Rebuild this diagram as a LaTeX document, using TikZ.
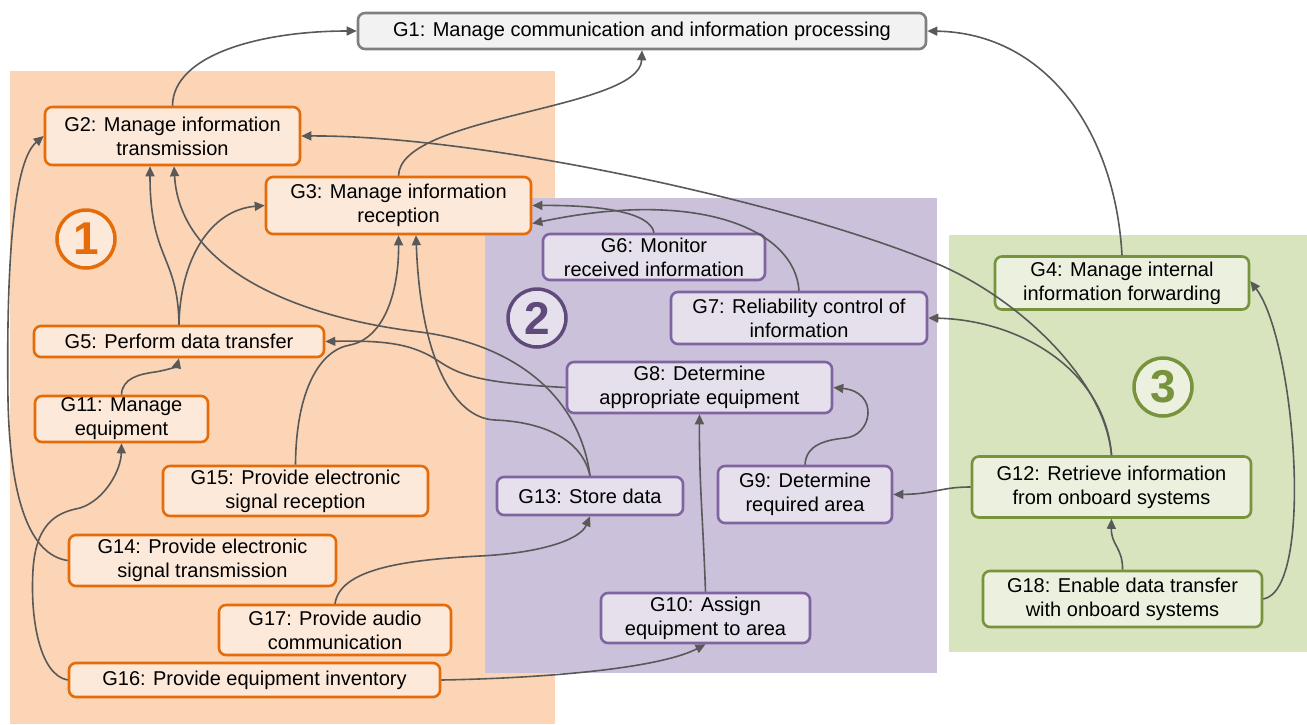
\documentclass[tikz,border=0pt]{standalone}
\usepackage{fontspec}
\setmainfont{Liberation Sans}
\usetikzlibrary{arrows.meta}
\definecolor{orbg}{HTML}{FBD5B5}
\definecolor{orfill}{HTML}{FDE9D9}
\definecolor{orline}{HTML}{E46C0A}
\definecolor{pubg}{HTML}{CCC1DA}
\definecolor{pufill}{HTML}{E5E0EC}
\definecolor{puline}{HTML}{8064A2}
\definecolor{pudark}{HTML}{604A7B}
\definecolor{grbg}{HTML}{D7E4BD}
\definecolor{grfill}{HTML}{EBF1DE}
\definecolor{grline}{HTML}{77933C}
\definecolor{gyfill}{HTML}{F2F2F2}
\definecolor{gyline}{HTML}{7F7F7F}
\definecolor{conn}{HTML}{595959}
\tikzset{
  gbox/.style={rectangle, rounded corners=7pt, line width=2.6pt, inner sep=0pt, align=center,
    font=\fontsize{20}{24}\selectfont, text=black},
  obox/.style={gbox, draw=orline, fill=orfill},
  pbox/.style={gbox, draw=puline, fill=pufill},
  grbox/.style={gbox, draw=grline, fill=grfill},
  gybox/.style={gbox, draw=gyline, fill=gyfill},
  num/.style={circle, line width=3.5pt, minimum size=58pt, inner sep=0pt,
    font=\fontsize{46}{46}\selectfont\bfseries},
  link/.style={draw=conn, line width=1.6pt, -{Triangle[length=10pt,width=9pt]}},
}
\begin{document}
\begin{tikzpicture}[x=1pt,y=-1pt]
\useasboundingbox (0,0) rectangle (1307,724);
% regions
\fill[orbg] (10,71) rectangle (555,724);
\fill[pubg] (485,198) rectangle (937,673);
\fill[grbg] (949,235) rectangle (1307,652);
% circles
\node[num, draw=orline, fill=orfill, text=orline] (c1) at (86,239) {1};
\node[num, draw=pudark, fill=pufill, text=pudark] (c2) at (537,318) {2};
\node[num, draw=grline, fill=grfill, text=grline] (c3) at (1163,387) {3};
% nodes
\node[gybox, minimum width=568pt, minimum height=36pt] (G1) at (642,31) {G1: Manage communication and information processing};
\node[obox, minimum width=255pt, minimum height=58pt] (G2) at (172.5,136) {G2: Manage information\\transmission};
\node[obox, minimum width=265pt, minimum height=57pt] (G3) at (398.5,205.5) {G3: Manage information\\reception};
\node[grbox, minimum width=254pt, minimum height=53pt] (G4) at (1122,283) {G4: Manage internal\\information forwarding};
\node[obox, minimum width=290pt, minimum height=31pt] (G5) at (179,341.5) {G5: Perform data transfer};
\node[pbox, minimum width=222pt, minimum height=46pt] (G6) at (654,257) {G6: Monitor\\received information};
\node[pbox, minimum width=256pt, minimum height=52pt] (G7) at (799,318) {G7: Reliability control of\\information};
\node[pbox, minimum width=265pt, minimum height=51pt] (G8) at (699.5,387.5) {G8: Determine\\appropriate equipment};
\node[pbox, minimum width=174pt, minimum height=57pt] (G9) at (805,494.5) {G9: Determine\\required area};
\node[pbox, minimum width=209pt, minimum height=50pt] (G10) at (705.5,618) {G10: Assign\\equipment to area};
\node[obox, minimum width=173pt, minimum height=46pt] (G11) at (121.5,419) {G11: Manage\\equipment};
\node[grbox, minimum width=279pt, minimum height=61pt] (G12) at (1111.5,487) {G12: Retrieve information\\from onboard systems};
\node[pbox, minimum width=186pt, minimum height=38pt] (G13) at (590,496) {G13: Store data};
\node[obox, minimum width=267pt, minimum height=51pt] (G14) at (202.5,560.5) {G14: Provide electronic\\signal transmission};
\node[obox, minimum width=265pt, minimum height=50pt] (G15) at (295.5,491) {G15: Provide electronic\\signal reception};
\node[obox, minimum width=371pt, minimum height=34pt] (G16) at (254.5,680) {G16: Provide equipment inventory};
\node[obox, minimum width=232pt, minimum height=50pt] (G17) at (335,630) {G17: Provide audio\\communication};
\node[grbox, minimum width=279pt, minimum height=56pt] (G18) at (1122.5,599) {G18: Enable data transfer\\with onboard systems};
% connectors
\draw[link] (G2.north) .. controls (173,55) and (260,31) .. (G1.west);
\draw[link] (G3.north) .. controls (400,115) and (640,110) .. (G1.south);
\draw[link] (G4.north) .. controls (1115,130) and (1045,33) .. (G1.east);
\draw[link] (G12.north) .. controls (1105,380) and (1020,300) .. (940,265)
  .. controls (790,202) and (480,135) .. (G2.east);
\draw[link] (G12.north) .. controls (1105,370) and (1020,320) .. (G7.east);
\draw[link] (G7.north) .. controls (795,230) and (700,188) .. ([yshift=-18pt]G3.east);
\draw[link] (G6.north) .. controls (650,212) and (600,205) .. (G3.east);
\draw[link] (G9.north) .. controls (806,445) and (825,440) .. (845,438)
  .. controls (872,436) and (880,392) .. (G8.east);
\draw[link] (G10.north) .. controls (703,520) and (699,480) .. (G8.south);
\draw[link] (G12.west) .. controls (940,487) and (935,494) .. (G9.east);
\draw[link] (G18.north) .. controls (1123,548) and (1111,545) .. (G12.south);
\draw[link] (G18.east) .. controls (1315,590) and (1295,340) .. ([yshift=2pt]G4.east);
\draw[link] (G8.west) .. controls (480,383) and (460,375) .. (440,362)
  .. controls (415,345) and (390,340) .. (G5.east);
\draw[link] (G13.north) .. controls (580,400) and (520,345) .. (420,332)
  .. controls (300,318) and (180,270) .. ([xshift=1.5pt]G2.south);
\draw[link] (G13.north) .. controls (582,440) and (545,422) .. (495,420)
  .. controls (450,418) and (420,350) .. ([xshift=17.5pt]G3.south);
\draw[link] (G15.north) .. controls (296,390) and (320,350) .. (350,345)
  .. controls (385,338) and (399,290) .. (G3.south);
\draw[link] (G5.north) .. controls (178,255) and (150,260) .. ([xshift=-22.5pt]G2.south);
\draw[link] (G5.north) .. controls (180,260) and (210,210) .. (G3.west);
\draw[link] (G11.north) .. controls (122,378) and (140,374) .. (155,372)
  .. controls (168,370) and (177,366) .. (G5.south);
\draw[link] (G16.west) .. controls (40,675) and (30,620) .. (33,570)
  .. controls (36,520) and (60,512) .. (80,508)
  .. controls (105,500) and (121,470) .. (G11.south);
\draw[link] (G14.west) .. controls (30,555) and (10,500) .. (8,400)
  .. controls (6,250) and (15,160) .. (G2.west);
\draw[link] (G17.north) .. controls (340,570) and (400,560) .. (480,556)
  .. controls (540,553) and (580,540) .. (G13.south);
\draw[link] (G16.east) .. controls (550,678) and (660,668) .. (G10.south);
\end{tikzpicture}
\end{document}
